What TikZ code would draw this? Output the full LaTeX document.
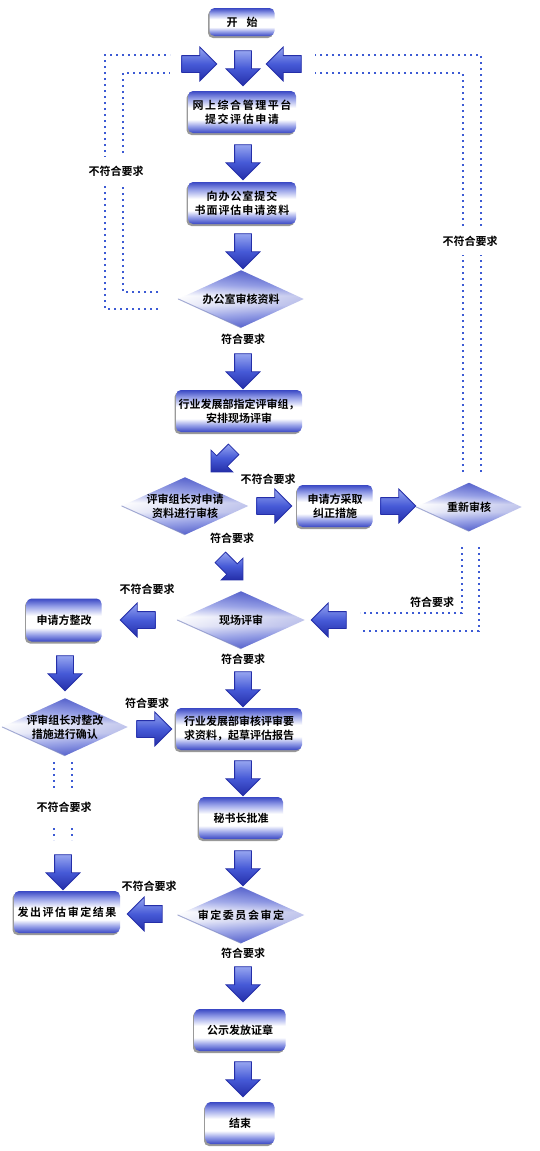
\documentclass[tikz,border=0pt]{standalone}
\usepackage{fontspec}
\setmainfont{Noto Sans CJK SC}[BoldFont={Noto Sans CJK SC Bold}]
\usetikzlibrary{shapes.geometric,shapes.arrows,shadows,calc}
\pgfdeclarelayer{back}
\pgfdeclarelayer{bg}
\pgfsetlayers{back,bg,main}
\definecolor{bxblue}{RGB}{58,72,196}
\definecolor{bxmid}{RGB}{150,160,232}
\definecolor{dmid}{RGB}{236,238,250}
\definecolor{dedge}{RGB}{130,140,195}
\definecolor{arrdark}{RGB}{36,46,168}
\definecolor{arrmid}{RGB}{70,90,215}
\definecolor{arrlight}{RGB}{150,165,240}
\definecolor{dotblue}{RGB}{60,90,212}
\pgfdeclareverticalshading{boxshade}{100bp}{color(0bp)=(bxblue); color(25bp)=(bxblue); color(33bp)=(bxmid); color(41bp)=(white); color(55bp)=(white); color(66bp)=(bxmid); color(75bp)=(bxblue); color(100bp)=(bxblue)}
\pgfdeclareverticalshading{diashade}{100bp}{color(0bp)=(bxblue); color(25bp)=(bxblue); color(36bp)=(bxmid); color(45bp)=(dmid); color(53bp)=(white); color(62bp)=(bxmid); color(75bp)=(bxblue); color(100bp)=(bxblue)}
\newcommand{\diafill}[1]{\begin{pgfonlayer}{bg}
  \shade[shading=diashade] (#1.north) -- (#1.east) -- (#1.south) -- (#1.west) -- cycle;
  \shade[left color=white, right color=bxblue, opacity=0.3] (#1.north) -- (#1.east) -- (#1.south) -- (#1.west) -- cycle;
  \draw[dedge, line width=1pt, opacity=0.7, line cap=round] (#1.west) -- (#1.south);
  \end{pgfonlayer}}
\tikzset{
  txt/.style={font=\fontsize{11}{14}\selectfont\bfseries, align=center, text=black},
  wide/.style={font=\fontsize{11}{14}\selectfont\bfseries\addfontfeature{LetterSpace=14}},
  boxnode/.style={txt, rectangle, rounded corners=5pt, shade, shading=boxshade, inner sep=0pt,
    drop shadow={shadow xshift=-1.5pt, shadow yshift=-2pt, opacity=0.4, fill=black}},
  dianode/.style={txt, rectangle, inner sep=0pt},
  barrow/.style={single arrow, minimum height=35pt, minimum width=33pt, inner xsep=0pt, inner ysep=8pt,
    single arrow head extend=8.5pt, single arrow tip angle=90, draw=arrdark, line width=0.8pt,
    top color=arrlight, bottom color=arrdark, middle color=arrmid},
  sarrow/.style={barrow, minimum height=32pt, minimum width=30pt, inner ysep=7pt, single arrow head extend=8pt},
  lab/.style={txt, inner sep=1pt},
  labcut/.style={txt, fill=white, inner xsep=1pt, inner ysep=9pt},
  dotline/.style={draw=dotblue, line width=1.6pt, dash pattern=on 1.6pt off 4.4pt}
}
\begin{document}
\begin{tikzpicture}[x=1pt,y=-1pt]
\begin{pgfonlayer}{back}
\fill[white] (0,0) rectangle (540,1151);
\end{pgfonlayer}
\useasboundingbox (0,0) rectangle (540,1151);

% dotted loops
\coordinate (la1) at (158,292); \coordinate (la2) at (123,292); \coordinate (la3) at (123,73); \coordinate (la4) at (170,73);
\coordinate (lb1) at (158,309); \coordinate (lb2) at (105,309); \coordinate (lb3) at (105,55); \coordinate (lb4) at (170,55);
\coordinate (ra1) at (463,472); \coordinate (ra2) at (463,73); \coordinate (ra3) at (315,73);
\coordinate (rb1) at (481,472); \coordinate (rb2) at (481,55); \coordinate (rb3) at (315,55);
\coordinate (sa1) at (462,547); \coordinate (sa2) at (462,613); \coordinate (sa3) at (360,613);
\coordinate (sb1) at (479,547); \coordinate (sb2) at (479,631); \coordinate (sb3) at (360,631);
\coordinate (ca1) at (54,762); \coordinate (ca2) at (54,840);
\coordinate (cb1) at (72,762); \coordinate (cb2) at (72,840);
\draw[dotline] (la1) -- (la2) -- (la3) -- (la4);
\draw[dotline] (lb1) -- (lb2) -- (lb3) -- (lb4);
\draw[dotline] (ra1) -- (ra2) -- (ra3);
\draw[dotline] (rb1) -- (rb2) -- (rb3);
\draw[dotline] (sa1) -- (sa2) -- (sa3);
\draw[dotline] (sb1) -- (sb2) -- (sb3);
\draw[dotline] (ca1) -- (ca2);
\draw[dotline] (cb1) -- (cb2);

% boxes
\node[boxnode, minimum width=65pt, minimum height=28pt] (start) at (242,22) {开\hspace{9pt}始};
\node[boxnode, wide, minimum width=108pt, minimum height=42pt] (n1) at (242,112) {网上综合管理平台\\提交评估申请};
\node[boxnode, minimum width=108pt, minimum height=42pt, font=\fontsize{11}{14}\selectfont\bfseries\addfontfeature{LetterSpace=9}] (n2) at (242,203) {向办公室提交\\书面评估申请资料};
\node[dianode, minimum width=125pt, minimum height=57pt] (d1) at (241,299) {办公室审核资料};
\node[boxnode, minimum width=126pt, minimum height=42pt] (n3) at (239,411) {行业发展部指定评审组，\\安排现场评审};
\node[dianode, minimum width=126pt, minimum height=57pt] (d2) at (185,506) {评审组长对申请\\资料进行审核};
\node[boxnode, minimum width=75pt, minimum height=42pt] (n4) at (335,506) {申请方采取\\纠正措施};
\node[dianode, minimum width=105pt, minimum height=48pt] (d3) at (469,507) {重新审核};
\node[dianode, minimum width=127pt, minimum height=57pt] (d4) at (241,620) {现场评审};
\node[boxnode, minimum width=75pt, minimum height=43pt] (n5) at (64,620) {申请方整改};
\node[dianode, minimum width=125pt, minimum height=57pt] (d5) at (65,727) {评审组长对整改\\措施进行确认};
\node[boxnode, minimum width=126pt, minimum height=42pt] (n6) at (239,729) {行业发展部审核评审要\\求资料，起草评估报告};
\node[boxnode, minimum width=84pt, minimum height=42pt] (n7) at (241,818) {秘书长批准};
\node[dianode, wide, minimum width=126pt, minimum height=56pt] (d6) at (241,915) {审定委员会审定};
\node[boxnode, wide, minimum width=106pt, minimum height=42pt] (n8) at (67,912) {发出评估审定结果};
\node[boxnode, minimum width=91pt, minimum height=42pt] (n9) at (240,1030) {公示发放证章};
\node[boxnode, minimum width=69pt, minimum height=42pt] (n10) at (240,1123) {结束};
\diafill{d1}\diafill{d2}\diafill{d3}\diafill{d4}\diafill{d5}\diafill{d6}

% block arrows
\node[barrow] (a0r) at (195,64) {};
\node[barrow, rotate=-90] (a0d) at (243,64) {};
\node[barrow, rotate=180] (a0l) at (288,64) {};
\node[barrow, rotate=-90] (a2) at (243,158) {};
\node[barrow, rotate=-90] (a3) at (243,247) {};
\node[barrow, rotate=-90] (a4) at (243,367) {};
\node[sarrow, rotate=-135] (a5) at (225,458) {};
\node[barrow] (a6) at (270,506) {};
\node[barrow] (a7) at (394,506) {};
\node[sarrow, rotate=-45] (a8) at (229,566) {};
\node[barrow, rotate=180] (a9) at (142,620) {};
\node[barrow, rotate=180] (a10) at (333,620) {};
\node[barrow, rotate=-90] (a11) at (65,669) {};
\node[barrow, rotate=-90] (a12) at (243,685) {};
\node[barrow] (a13) at (150,729) {};
\node[barrow, rotate=-90] (a14) at (243,774) {};
\node[barrow, rotate=-90] (a15) at (63,868) {};
\node[barrow, rotate=-90] (a16) at (243,864) {};
\node[barrow, rotate=180] (a17) at (149,914) {};
\node[barrow, rotate=-90] (a18) at (243,980) {};
\node[barrow, rotate=-90] (a19) at (243,1075) {};

% labels
\node[labcut] (l1) at (116,171) {不符合要求};
\node[labcut] (l2) at (470,241) {不符合要求};
\node[lab] (l3) at (243,339) {符合要求};
\node[lab] (l4) at (268,479) {不符合要求};
\node[lab] (l5) at (232,538) {符合要求};
\node[lab] (l6) at (147,589) {不符合要求};
\node[lab] (l7) at (432,602) {符合要求};
\node[lab] (l8) at (243,659) {符合要求};
\node[lab] (l9) at (147,703) {符合要求};
\node[labcut, inner ysep=13pt] (l10) at (64,807) {不符合要求};
\node[lab] (l11) at (149,886) {不符合要求};
\node[lab] (l12) at (243,953) {符合要求};
\end{tikzpicture}
\end{document}
